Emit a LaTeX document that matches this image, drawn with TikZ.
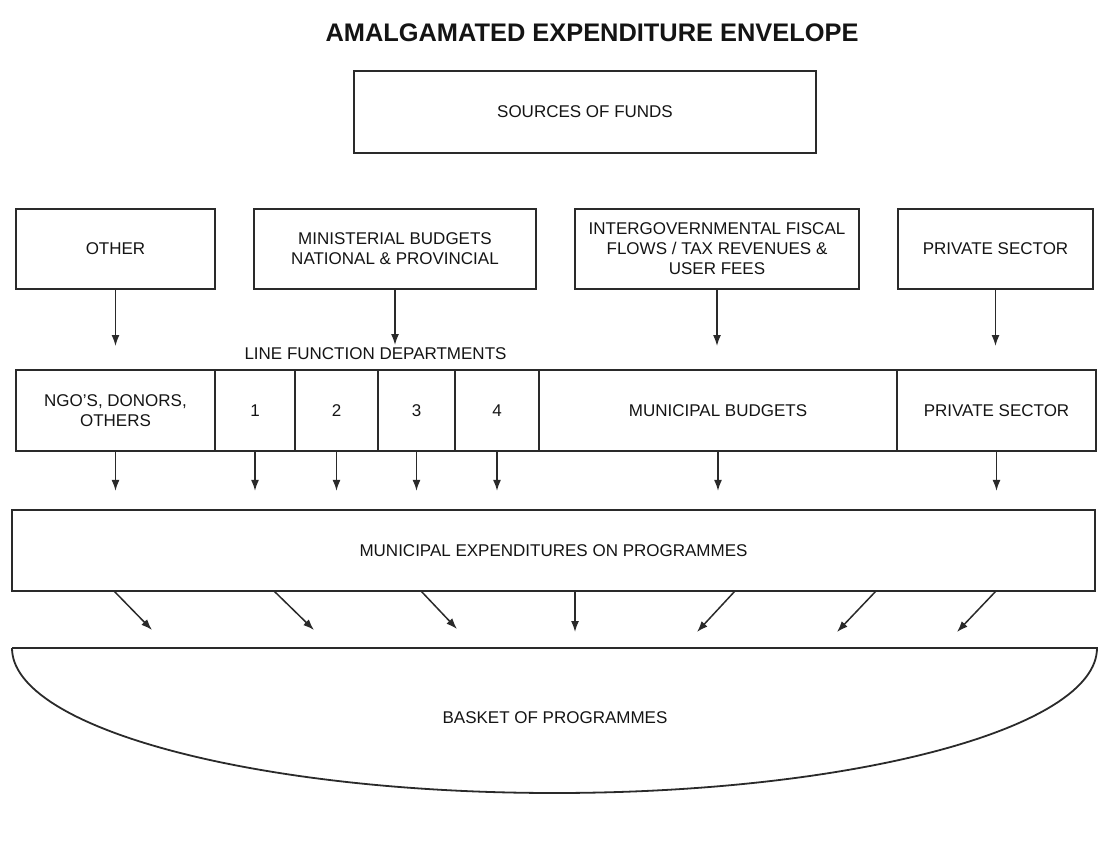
\documentclass[tikz,border=0pt]{standalone}
\usepackage{fontspec}
\setmainfont{Liberation Sans}
\usetikzlibrary{arrows.meta}
\definecolor{ln}{HTML}{2A2A2A}
\definecolor{tx}{HTML}{141414}
\tikzset{
  box/.style={draw=ln, line width=1.8pt, rectangle, inner sep=0pt, align=center,
    text=tx, font=\fontsize{17}{20}\selectfont},
  lbl/.style={inner sep=0pt, align=center, text=tx, font=\fontsize{17}{20}\selectfont},
  flow/.style={draw=ln, line width=1.5pt, -{Latex[length=11pt,width=8pt]}},
}
\begin{document}
\begin{tikzpicture}[x=1pt,y=1pt]
\useasboundingbox (0,0) rectangle (1098,-843);
% title
\node[inner sep=0pt, text=tx, font=\fontsize{25.4}{30}\selectfont\bfseries] (title) at (592,-33) {AMALGAMATED EXPENDITURE ENVELOPE};
% sources
\node[box, minimum width=462pt, minimum height=82pt] (src) at (585,-112) {SOURCES OF FUNDS};
% top row
\node[box, minimum width=199pt, minimum height=80pt] (other) at (115.5,-249) {OTHER};
\node[box, minimum width=282pt, minimum height=80pt] (mini) at (395,-249) {MINISTERIAL BUDGETS\\NATIONAL \& PROVINCIAL};
\node[box, minimum width=284pt, minimum height=80pt] (inter) at (717,-249) {INTERGOVERNMENTAL FISCAL\\FLOWS / TAX REVENUES \&\\USER FEES};
\node[box, minimum width=195pt, minimum height=80pt] (privtop) at (995.5,-249) {PRIVATE SECTOR};
% free ends of top arrows
\coordinate (eo) at (115.5,-346);
\coordinate (em) at (395,-345);
\coordinate (ei) at (717,-346);
\coordinate (ep) at (995.5,-346);
\draw[flow] (other.south) -- (eo);
\draw[flow] (mini.south) -- (em);
\draw[flow] (inter.south) -- (ei);
\draw[flow] (privtop.south) -- (ep);
\node[lbl] (lfd) at (375.5,-354) {LINE FUNCTION DEPARTMENTS};
% middle row
\node[box, minimum width=199pt, minimum height=81pt] (ngo) at (115.5,-410.5) {NGO'S, DONORS,\\OTHERS};
\node[box, minimum width=80pt, minimum height=81pt] (d1) at (255,-410.5) {1};
\node[box, minimum width=83pt, minimum height=81pt] (d2) at (336.5,-410.5) {2};
\node[box, minimum width=77pt, minimum height=81pt] (d3) at (416.5,-410.5) {3};
\node[box, minimum width=84pt, minimum height=81pt] (d4) at (497,-410.5) {4};
\node[box, minimum width=358pt, minimum height=81pt] (mun) at (718,-410.5) {MUNICIPAL BUDGETS};
\node[box, minimum width=199pt, minimum height=81pt] (priv) at (996.5,-410.5) {PRIVATE SECTOR};
% arrows down to expenditure
\foreach \n in {ngo,d1,d2,d3,d4,mun,priv}{
  \coordinate (t\n) at ([yshift=-39pt]\n.south);
  \draw[flow] (\n.south) -- (t\n);
}
% expenditures
\node[box, minimum width=1083pt, minimum height=81pt] (exp) at (553.5,-550.5) {MUNICIPAL EXPENDITURES ON PROGRAMMES};
% basket
\draw[ln, line width=1.8pt] (12,-648) -- (1097,-648)
  arc[start angle=0, end angle=-180, x radius=542.5pt, y radius=145pt];
\node[lbl] (basket) at (555,-718) {BASKET OF PROGRAMMES};
% arrows into basket
\coordinate (s1) at (114,-591);  \coordinate (f1) at (152,-630);
\coordinate (s2) at (274,-591);  \coordinate (f2) at (314,-630);
\coordinate (s3) at (421,-591);  \coordinate (f3) at (457,-629);
\coordinate (s4) at (575,-591);  \coordinate (f4) at (575,-632);
\coordinate (s5) at (735,-591);  \coordinate (f5) at (697,-632);
\coordinate (s6) at (876,-591);  \coordinate (f6) at (837,-632);
\coordinate (s7) at (996,-591);  \coordinate (f7) at (957,-632);
\foreach \i in {1,...,7}{ \draw[flow] (s\i) -- (f\i); }
\end{tikzpicture}
\end{document}
